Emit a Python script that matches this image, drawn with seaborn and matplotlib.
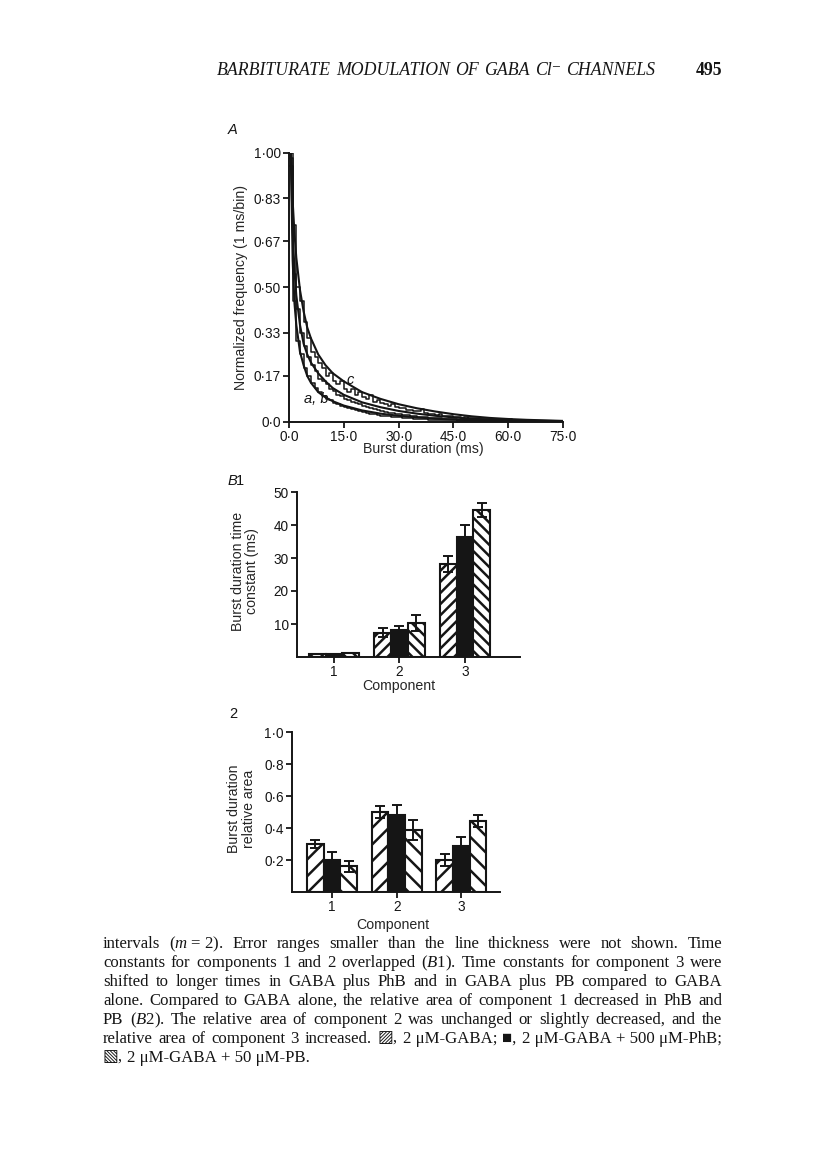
import numpy as np
import pandas as pd
import seaborn as sns
import matplotlib.pyplot as plt

# ---- panel A: normalized burst duration histograms (1 ms bins) + fitted curves
bin_start = list(range(75))
hist_a = [0.95, 0.45, 0.30, 0.25, 0.20, 0.17, 0.145, 0.125, 0.11, 0.095,
          0.085, 0.08, 0.07, 0.066, 0.06, 0.055, 0.05, 0.047, 0.042, 0.038,
          0.035, 0.032, 0.03, 0.028, 0.025, 0.023, 0.021, 0.02, 0.018, 0.017,
          0.016, 0.014, 0.013, 0.012, 0.011, 0.010, 0.0095, 0.009, 0.008, 0.0075,
          0.007, 0.0065, 0.006, 0.0055, 0.005, 0.0045, 0.004, 0.004, 0.0035, 0.003,
          0.003, 0.003, 0.0025, 0.0025, 0.002, 0.002, 0.002, 0.002, 0.0015, 0.0015,
          0.0015, 0.0015, 0.001, 0.001, 0.001, 0.001, 0.001, 0.001, 0.001, 0.001,
          0.001, 0.001, 0.001, 0.001, 0.001]
hist_b = [0.98, 0.55, 0.42, 0.33, 0.28, 0.24, 0.21, 0.19, 0.16, 0.15,
          0.14, 0.12, 0.115, 0.10, 0.095, 0.085, 0.08, 0.075, 0.07, 0.065,
          0.06, 0.055, 0.05, 0.048, 0.044, 0.04, 0.037, 0.034, 0.032, 0.03,
          0.028, 0.026, 0.024, 0.022, 0.02, 0.019, 0.017, 0.016, 0.015, 0.014,
          0.013, 0.012, 0.011, 0.010, 0.009, 0.009, 0.008, 0.007, 0.007, 0.006,
          0.006, 0.005, 0.005, 0.004, 0.004, 0.004, 0.003, 0.003, 0.003, 0.003,
          0.002, 0.002, 0.002, 0.002, 0.002, 0.002, 0.0015, 0.0015, 0.0015, 0.0015,
          0.001, 0.001, 0.001, 0.001, 0.001]
hist_c = [1.00, 0.73, 0.50, 0.45, 0.37, 0.31, 0.26, 0.24, 0.22, 0.20,
          0.17, 0.18, 0.15, 0.14, 0.15, 0.12, 0.11, 0.12, 0.10, 0.11,
          0.09, 0.085, 0.10, 0.075, 0.08, 0.07, 0.065, 0.06, 0.065, 0.055,
          0.05, 0.052, 0.045, 0.042, 0.04, 0.038, 0.048, 0.032, 0.03, 0.028,
          0.025, 0.028, 0.022, 0.02, 0.021, 0.017, 0.018, 0.014, 0.018, 0.013,
          0.012, 0.013, 0.010, 0.009, 0.010, 0.007, 0.008, 0.006, 0.005, 0.006,
          0.009, 0.005, 0.004, 0.004, 0.004, 0.003, 0.003, 0.003, 0.002, 0.002,
          0.002, 0.002, 0.001, 0.002, 0.001]

fit_x = [0.5, 1, 1.5, 2, 3, 4, 5, 6, 8, 10, 12, 15, 20, 25, 30, 35, 40, 45, 50, 55, 60, 65, 70, 75]
fit_a = [1.00, 0.60, 0.44, 0.36, 0.26, 0.21, 0.17, 0.145, 0.11, 0.09, 0.076, 0.06, 0.042, 0.03,
         0.022, 0.016, 0.011, 0.008, 0.006, 0.004, 0.003, 0.002, 0.0015, 0.001]
fit_b = [1.00, 0.72, 0.56, 0.47, 0.36, 0.29, 0.25, 0.22, 0.18, 0.15, 0.125, 0.10, 0.072, 0.054,
         0.04, 0.03, 0.022, 0.016, 0.011, 0.008, 0.006, 0.004, 0.003, 0.002]
fit_c = [1.00, 0.82, 0.70, 0.61, 0.49, 0.41, 0.35, 0.31, 0.25, 0.21, 0.18, 0.15, 0.11, 0.085,
         0.065, 0.05, 0.038, 0.028, 0.02, 0.014, 0.010, 0.007, 0.005, 0.003]

a_yticks = [0.0, 0.17, 0.33, 0.50, 0.67, 0.83, 1.00]
a_yticklabels = ["0·0", "0·17", "0·33", "0·50", "0·67", "0·83", "1·00"]
a_xticks = [0, 15, 30, 45, 60, 75]
a_xticklabels = ["0·0", "15·0", "30·0", "45·0", "60·0", "75·0"]

# ---- panels B1 / B2
components = ["1", "2", "3"]
conditions = ["GABA", "GABA+PhB", "GABA+PB"]
tau_gaba = [0.9, 7.4, 28.2]
tau_phb = [0.9, 8.1, 36.5]
tau_pb = [1.3, 10.4, 44.5]
tau_err_gaba = [0, 1.4, 2.4]
tau_err_phb = [0, 1.4, 3.5]
tau_err_pb = [0, 2.4, 2.2]
area_gaba = [0.30, 0.50, 0.20]
area_phb = [0.20, 0.48, 0.29]
area_pb = [0.16, 0.39, 0.445]
area_err_gaba = [0.028, 0.038, 0.038]
area_err_phb = [0.052, 0.062, 0.052]
area_err_pb = [0.036, 0.063, 0.038]
b1_yticks = [10, 20, 30, 40, 50]
b2_yticks = [0.2, 0.4, 0.6, 0.8, 1.0]
b2_yticklabels = ["0·2", "0·4", "0·6", "0·8", "1·0"]

header = "BARBITURATE MODULATION OF GABA Cl⁻ CHANNELS"
page_no = "495"
NB = "\u00a0"
caption = [
    f"intervals ($m${NB}={NB}2). Error ranges smaller than the line thickness were not shown. Time",
    "constants for components 1 and 2 overlapped ($B$1). Time constants for component 3 were",
    "shifted to longer times in GABA plus PhB and in GABA plus PB compared to GABA",
    "alone. Compared to GABA alone, the relative area of component 1 decreased in PhB and",
    "PB ($B$2). The relative area of component 2 was unchanged or slightly decreased, and the",
    f"relative area of component 3 increased. ▨, 2{NB}μM-GABA; ■, 2{NB}μM-GABA{NB}+{NB}500{NB}μM-PhB;",
    f"▧, 2{NB}μM-GABA{NB}+{NB}50{NB}μM-PB.",
]

INK = "#151515"
W, H = 816, 1170

sns.set_theme(style="ticks")
plt.rcParams["font.family"] = ["Liberation Sans", "DejaVu Sans"]
plt.rcParams["mathtext.fontset"] = "custom"
plt.rcParams["mathtext.rm"] = "Liberation Serif"
plt.rcParams["mathtext.it"] = "Liberation Serif:italic"
plt.rcParams["hatch.linewidth"] = 1.8
plt.rcParams["axes.linewidth"] = 1.4
plt.rcParams["axes.edgecolor"] = INK
plt.rcParams["xtick.color"] = INK
plt.rcParams["ytick.color"] = INK
plt.rcParams["text.color"] = INK

fig = plt.figure(figsize=(W / 100, H / 100), dpi=100)
fig.patch.set_facecolor("white")


def box(left, top, right, bottom):
    return [left / W, 1 - bottom / H, (right - left) / W, (bottom - top) / H]


def style_axis(ax):
    sns.despine(ax=ax)
    ax.set_facecolor("white")
    ax.tick_params(direction="out", length=4, width=1.3, labelsize=9.8, pad=2)


# panel A
axA = fig.add_axes(box(289, 152.7, 563, 421.7))
for h in (hist_a, hist_b, hist_c):
    hdf = pd.DataFrame({"start": bin_start, "freq": h})
    sns.histplot(data=hdf, x="start", weights="freq", binwidth=1, binrange=(0, 75),
                 element="step", fill=False, color=INK, linewidth=1.1, ax=axA)
for f in (fit_a, fit_b, fit_c):
    sns.lineplot(x=fit_x, y=f, color=INK, linewidth=1.5, ax=axA)
axA.set_xlim(0, 75)
axA.set_ylim(0, 1.0)
axA.set_xticks(a_xticks, a_xticklabels)
axA.set_yticks(a_yticks, a_yticklabels)
axA.set_xlabel("Burst duration (ms)", fontsize=10.2)
axA.set_ylabel("Normalized frequency (1 ms/bin)", fontsize=10.2)
axA.xaxis.set_label_coords(0.49, -0.075)
axA.yaxis.set_label_coords(-0.15, 0.5)
style_axis(axA)
axA.text(16.7, 0.155, "c", style="italic", fontsize=10.5, ha="center", va="center")
axA.text(7.4, 0.083, "a, b", style="italic", fontsize=10.5, ha="center", va="center")


def bar_panel(ax, vals, errs, hatches):
    df = pd.DataFrame({
        "component": components * 3,
        "condition": np.repeat(conditions, 3),
        "value": vals[0] + vals[1] + vals[2],
    })
    sns.barplot(data=df, x="component", y="value", hue="condition",
                palette=["white", INK, "white"], saturation=1, edgecolor=INK,
                linewidth=1.5, width=0.77, errorbar=None, legend=False, ax=ax)
    for cont, hatch, err in zip(ax.containers, hatches, errs):
        xs, hs = [], []
        for p in cont:
            p.set_hatch(hatch)
            xs.append(p.get_x() + p.get_width() / 2)
            hs.append(p.get_height())
        keep = [i for i, e in enumerate(err) if e > 0]
        ax.errorbar([xs[i] for i in keep], [hs[i] for i in keep],
                    yerr=[err[i] for i in keep], fmt="none", ecolor=INK,
                    elinewidth=1.4, capsize=3.4, capthick=1.4, zorder=5)
    style_axis(ax)


# panel B1
axB1 = fig.add_axes(box(297, 492, 520, 657))
bar_panel(axB1, [tau_gaba, tau_phb, tau_pb], [tau_err_gaba, tau_err_phb, tau_err_pb],
          ["///", "", "\\\\\\"])
axB1.set_xlim(-0.565, 2.84)
axB1.set_ylim(0, 50)
axB1.set_yticks(b1_yticks)
axB1.set_xlabel("Component", fontsize=10.2)
axB1.set_ylabel("Burst duration time\nconstant (ms)", fontsize=10.2, linespacing=1.05)
axB1.xaxis.set_label_coords(0.455, -0.135)
axB1.yaxis.set_label_coords(-0.17, 0.52)

# panel B2
axB2 = fig.add_axes(box(292, 732, 500, 892))
bar_panel(axB2, [area_gaba, area_phb, area_pb], [area_err_gaba, area_err_phb, area_err_pb],
          ["//", "", "\\\\"])
axB2.set_xlim(-0.62, 2.60)
axB2.set_ylim(0, 1.0)
axB2.set_yticks(b2_yticks, b2_yticklabels)
axB2.set_xlabel("Component", fontsize=10.2)
axB2.set_ylabel("Burst duration\nrelative area", fontsize=10.2, linespacing=1.05)
axB2.xaxis.set_label_coords(0.485, -0.16)
axB2.yaxis.set_label_coords(-0.175, 0.52)

# panel letters
fig.text(228 / W, 1 - 130 / H, "A", style="italic", fontsize=10.5, va="center")
fig.text(228 / W, 1 - 481 / H, "B", style="italic", fontsize=10.5, va="center")
fig.text(236 / W, 1 - 481 / H, "1", fontsize=10.5, va="center")
fig.text(229 / W, 1 - 714 / H, "2", fontsize=10.5, va="center")

serif = ["Liberation Serif", "DejaVu Serif", "DejaVu Sans"]
renderer = fig.canvas.get_renderer()


def justify(line, y, x0, x1, fill=True, **kw):
    words = line.split(" ")
    texts = [fig.text(0, 1 - y / H, w, family=serif, va="baseline", **kw) for w in words]
    widths = [t.get_window_extent(renderer).width for t in texts]
    probe = fig.text(0, 0, "a a", family=serif, **kw)
    probe1 = fig.text(0, 0, "aa", family=serif, **kw)
    sw = probe.get_window_extent(renderer).width - probe1.get_window_extent(renderer).width
    probe.remove()
    probe1.remove()
    gap = (x1 - x0 - sum(widths)) / (len(words) - 1) if fill else sw
    x = x0
    for t, w in zip(texts, widths):
        t.set_x(x / W)
        x += w + gap


justify(header, 75, 217, 655, style="italic", fontsize=12.8)
fig.text(722 / W, 1 - 75 / H, page_no, family=serif, fontsize=12.8, ha="right",
         va="baseline", weight="bold")
for i, line in enumerate(caption):
    justify(line, 948 + i * 19, 103, 722, fill=i < len(caption) - 1, fontsize=12.1)

fig.savefig("out.png", dpi=100, facecolor="white")
